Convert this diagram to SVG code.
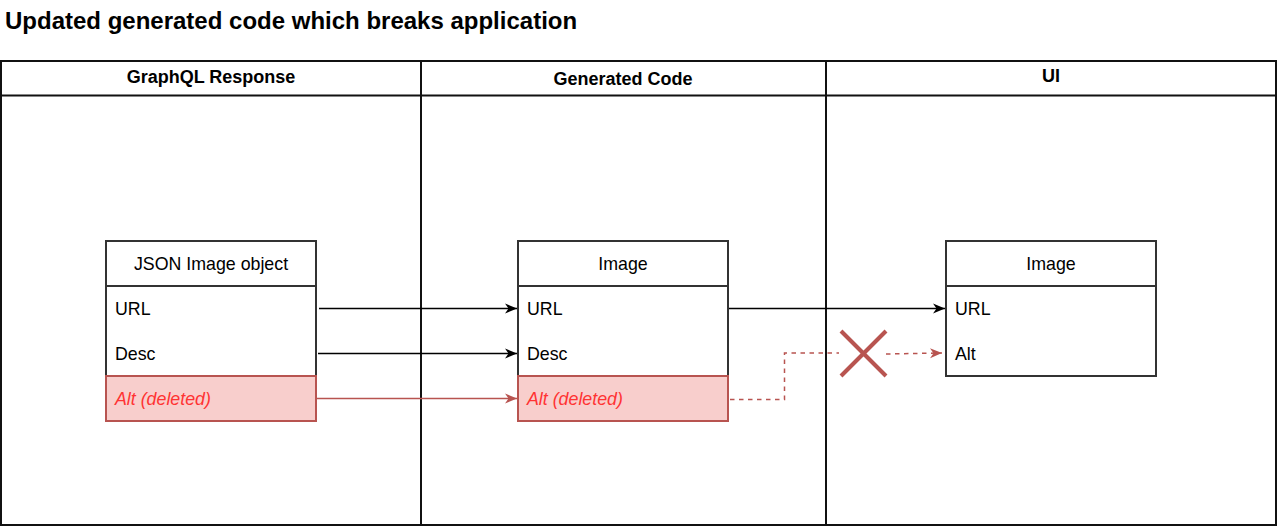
<svg xmlns="http://www.w3.org/2000/svg" width="1277" height="527" viewBox="0 0 1277 527">
<style>
text{font-family:"Liberation Sans",Arial,sans-serif;fill:#000}
.title{font-size:24px;font-weight:bold}
.lanehd{font-size:18px;font-weight:bold;text-anchor:middle}
.lane{fill:none;stroke:#111;stroke-width:2}
.box{fill:#fff;stroke:#333;stroke-width:2}
.del{fill:#f8cecc;stroke:#b85450;stroke-width:2}
.hd{font-size:17.8px;text-anchor:middle}
.row{font-size:17.8px}
.rowdel{font-size:17.8px;font-style:italic;fill:#ff3333}
.edge{fill:none;stroke:#000;stroke-width:1.5}
.edgered{fill:none;stroke:#b85450;stroke-width:1.5}
.dash{fill:none;stroke:#b85450;stroke-width:1.5;stroke-dasharray:4.5 4.5}
</style>
<defs>
<marker id="ab" viewBox="0 0 12 11" refX="12" refY="5.5" markerWidth="12" markerHeight="11" markerUnits="userSpaceOnUse" orient="auto">
<path d="M0,0.5 L12,5.5 L0,10.5 L3.5,5.5 z" fill="#000"/>
</marker>
<marker id="ar" viewBox="0 0 12 11" refX="12" refY="5.5" markerWidth="12" markerHeight="11" markerUnits="userSpaceOnUse" orient="auto">
<path d="M0,0.5 L12,5.5 L0,10.5 L3.5,5.5 z" fill="#b85450"/>
</marker>
</defs>
<text class="title" x="5" y="29">Updated generated code which breaks application</text>
<g id="lanes">
<rect class="lane" x="1" y="61" width="1275" height="464"/>
<line class="lane" x1="1" y1="95.5" x2="1276" y2="95.5"/>
<line class="lane" x1="421" y1="61" x2="421" y2="525"/>
<line class="lane" x1="826" y1="61" x2="826" y2="525"/>
<text class="lanehd" x="211" y="83">GraphQL Response</text>
<text class="lanehd" x="623" y="85">Generated Code</text>
<text class="lanehd" x="1051" y="82">UI</text>
</g>
<g id="node-json">
<rect class="box" x="106" y="241" width="210" height="180"/>
<line class="box" x1="106" y1="286" x2="316" y2="286"/>
<rect class="del" x="106" y="376" width="210" height="45"/>
<text class="hd" x="211" y="270">JSON Image object</text>
<text class="row" x="115" y="314.5">URL</text>
<text class="row" x="115" y="359.5">Desc</text>
<text class="rowdel" x="115" y="404.5">Alt (deleted)</text>
</g>
<g id="node-gen">
<rect class="box" x="518" y="241" width="210" height="180"/>
<line class="box" x1="518" y1="286" x2="728" y2="286"/>
<rect class="del" x="518" y="376" width="210" height="45"/>
<text class="hd" x="623" y="270">Image</text>
<text class="row" x="527" y="314.5">URL</text>
<text class="row" x="527" y="359.5">Desc</text>
<text class="rowdel" x="527" y="404.5">Alt (deleted)</text>
</g>
<g id="node-ui">
<rect class="box" x="946" y="241" width="210" height="135"/>
<line class="box" x1="946" y1="286" x2="1156" y2="286"/>
<text class="hd" x="1051" y="270">Image</text>
<text class="row" x="955" y="314.5">URL</text>
<text class="row" x="955" y="359.5">Alt</text>
</g>
<g id="connectors">
<path class="edge" d="M319,308.5 L517,308.5" marker-end="url(#ab)"/>
<path class="edge" d="M318,353.5 L517,353.5" marker-end="url(#ab)"/>
<path class="edgered" d="M317,398.5 L517,398.5" marker-end="url(#ar)"/>
<path class="edge" d="M729,308.5 L945,308.5" marker-end="url(#ab)"/>
<path class="dash" d="M730,399.5 L784.5,399.5 L784.5,353 L839,353"/>
<path class="dash" d="M886,354 L942,353" marker-end="url(#ar)"/>
<g id="cross">
<line x1="841" y1="331" x2="886" y2="376" stroke="#b85450" stroke-width="4"/>
<line x1="886" y1="331" x2="841" y2="376" stroke="#b85450" stroke-width="4"/>
</g>
</g>
</svg>
